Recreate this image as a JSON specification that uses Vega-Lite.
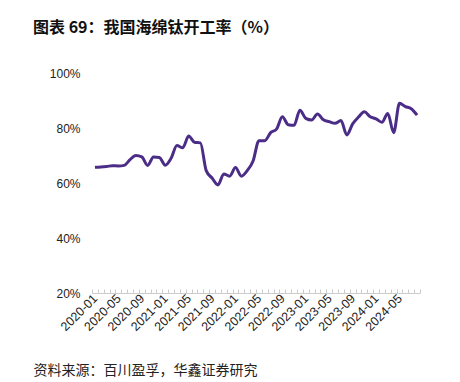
{
  "$schema": "https://vega.github.io/schema/vega-lite/v6.json",
  "width": 328,
  "height": 220,
  "autosize": {"type": "none"},
  "padding": {"left": 92, "top": 73, "right": 40, "bottom": 89},
  "background": "white",
  "title": {
    "text": "图表 69：我国海绵钛开工率（%）",
    "anchor": "start",
    "frame": "group",
    "dx": -59,
    "offset": 31,
    "font": "Noto Sans CJK SC",
    "fontSize": 16,
    "fontWeight": "bold",
    "color": "#111111"
  },
  "config": {
    "view": {"stroke": null},
    "axis": {"labelFont": "Liberation Sans", "labelColor": "#222222", "labelFontSize": 12}
  },
  "data": {
    "values": [
      {"month": "2020-01", "rate": 65.7},
      {"month": "2020-02", "rate": 65.8},
      {"month": "2020-03", "rate": 66.0},
      {"month": "2020-04", "rate": 66.3},
      {"month": "2020-05", "rate": 66.2},
      {"month": "2020-06", "rate": 66.4},
      {"month": "2020-07", "rate": 68.5},
      {"month": "2020-08", "rate": 70.0},
      {"month": "2020-09", "rate": 69.5},
      {"month": "2020-10", "rate": 66.4},
      {"month": "2020-11", "rate": 69.5},
      {"month": "2020-12", "rate": 69.3},
      {"month": "2021-01", "rate": 66.5},
      {"month": "2021-02", "rate": 69.0},
      {"month": "2021-03", "rate": 73.6},
      {"month": "2021-04", "rate": 72.8},
      {"month": "2021-05", "rate": 77.1},
      {"month": "2021-06", "rate": 74.8},
      {"month": "2021-07", "rate": 74.6},
      {"month": "2021-08", "rate": 64.5},
      {"month": "2021-09", "rate": 61.8},
      {"month": "2021-10", "rate": 59.3},
      {"month": "2021-11", "rate": 63.3},
      {"month": "2021-12", "rate": 62.5},
      {"month": "2022-01", "rate": 65.6},
      {"month": "2022-02", "rate": 62.5},
      {"month": "2022-03", "rate": 64.5},
      {"month": "2022-04", "rate": 68.0},
      {"month": "2022-05", "rate": 75.4},
      {"month": "2022-06", "rate": 75.4},
      {"month": "2022-07", "rate": 78.3},
      {"month": "2022-08", "rate": 79.6},
      {"month": "2022-09", "rate": 84.1},
      {"month": "2022-10", "rate": 81.2},
      {"month": "2022-11", "rate": 81.0},
      {"month": "2022-12", "rate": 86.5},
      {"month": "2023-01", "rate": 83.5},
      {"month": "2023-02", "rate": 82.9},
      {"month": "2023-03", "rate": 85.1},
      {"month": "2023-04", "rate": 83.0},
      {"month": "2023-05", "rate": 82.3},
      {"month": "2023-06", "rate": 81.7},
      {"month": "2023-07", "rate": 82.7},
      {"month": "2023-08", "rate": 77.5},
      {"month": "2023-09", "rate": 81.5},
      {"month": "2023-10", "rate": 84.0},
      {"month": "2023-11", "rate": 85.9},
      {"month": "2023-12", "rate": 84.1},
      {"month": "2024-01", "rate": 83.3},
      {"month": "2024-02", "rate": 82.1},
      {"month": "2024-03", "rate": 85.3},
      {"month": "2024-04", "rate": 78.3},
      {"month": "2024-05", "rate": 89.0},
      {"month": "2024-06", "rate": 87.8},
      {"month": "2024-07", "rate": 87.0},
      {"month": "2024-08", "rate": 84.7}
    ]
  },
  "mark": {"type": "line", "color": "#4B2D88", "strokeWidth": 3, "interpolate": "monotone"},
  "encoding": {
    "x": {
      "field": "month",
      "type": "ordinal",
      "bandPosition": 0.5,
      "scale": {"type": "band", "paddingInner": 0, "paddingOuter": 0},
      "axis": {
        "title": "资料来源：百川盈孚，华鑫证券研究",
        "titleFont": "Noto Sans CJK SC",
        "titleFontSize": 14,
        "titleFontWeight": "normal",
        "titleColor": "#222222",
        "titleAnchor": "start",
        "titleAlign": "left",
        "titleBaseline": "middle",
        "titleX": -59,
        "titleY": 77,
        "labelAngle": -45,
        "labelAlign": "right",
        "labelBaseline": "middle",
        "labelPadding": 7,
        "labelFontSize": 12.5,
        "labelExpr": "test(/-(01|05|09)$/, datum.value) ? datum.value : ''",
        "tickBand": "extent",
        "tickSize": -4,
        "tickColor": "#cccccc",
        "domainColor": "#cccccc",
        "labelOverlap": false,
        "grid": false
      }
    },
    "y": {
      "field": "rate",
      "type": "quantitative",
      "scale": {"domain": [20, 100]},
      "axis": {
        "title": null,
        "values": [20, 40, 60, 80, 100],
        "labelExpr": "datum.value + '%'",
        "domain": false,
        "ticks": false,
        "grid": false,
        "labelPadding": 12
      }
    }
  }
}
